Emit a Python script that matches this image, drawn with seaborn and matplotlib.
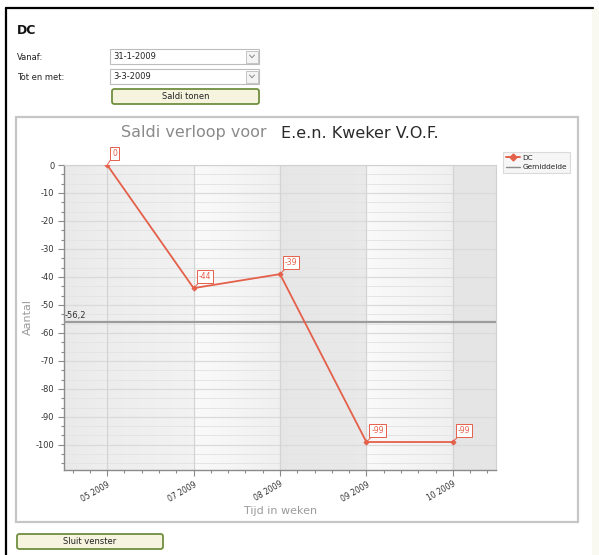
import numpy as np
import pandas as pd
import matplotlib
matplotlib.use("Agg")
import matplotlib.pyplot as plt
import seaborn as sns
from matplotlib.patches import Rectangle, FancyBboxPatch
from matplotlib.lines import Line2D
from matplotlib.ticker import MultipleLocator

# ---------------- data ----------------
weeks = ["05 2009", "07 2009", "08 2009", "09 2009", "10 2009"]
saldo = [0, -44, -39, -99, -99]
gemiddelde = -56.2
gemiddelde_label = "-56,2"
series_name = "DC"
avg_name = "Gemiddelde"
title_a = "Saldi verloop voor"
title_b = "E.e.n. Kweker V.O.F."
y_label = "Aantal"
x_label = "Tijd in weken"
vanaf = "31-1-2009"
tot = "3-3-2009"

sns.set_theme(style="white")
plt.rcParams["font.family"] = ["DejaVu Sans"]
plt.rcParams["axes.unicode_minus"] = False

W, H = 599, 555
fig = plt.figure(figsize=(W / 100, H / 100), dpi=100)
fig.patch.set_facecolor("white")


def fx(x):
    return x / W


def fy(y):
    return 1 - y / H


def frect(x0, y0, x1, y1, z=1, **kw):
    r = Rectangle((fx(x0), fy(y1)), fx(x1) - fx(x0), fy(y0) - fy(y1),
                  transform=fig.transFigure, zorder=z, **kw)
    fig.add_artist(r)
    return r


def fbutton(x0, y0, x1, y1, text):
    b = FancyBboxPatch((fx(x0), fy(y1)), fx(x1) - fx(x0), fy(y0) - fy(y1),
                       boxstyle="round,pad=0,rounding_size=0.004",
                       transform=fig.transFigure, facecolor="#f6f3de",
                       edgecolor="#6f8f3f", linewidth=1.3)
    fig.add_artist(b)
    fig.text(fx((x0 + x1) / 2), fy((y0 + y1) / 2), text, ha="center",
             va="center", fontsize=6, color="#222222")


# window decorations
fig.add_artist(Line2D([fx(6), fx(593)], [fy(8), fy(8)], color="black",
                      lw=1.6, transform=fig.transFigure))
fig.add_artist(Line2D([fx(6), fx(6)], [fy(8), fy(555)], color="black",
                      lw=1.6, transform=fig.transFigure))
frect(592, 8, 599, 555, facecolor="#f9f9f2", edgecolor="none")

# header
fig.text(fx(17), fy(31), "DC", fontsize=9, fontweight="bold",
         color="#111111", va="center", ha="left")
fig.text(fx(17), fy(57), "Vanaf:", fontsize=6, color="#222222",
         va="center", ha="left")
fig.text(fx(17), fy(77), "Tot en met:", fontsize=6, color="#222222",
         va="center", ha="left")
for (yy0, yy1, txt) in [(49, 64, vanaf), (69, 84, tot)]:
    frect(110, yy0, 259, yy1, facecolor="white", edgecolor="#bcbcbc", lw=0.8)
    frect(246, yy0 + 1.5, 258, yy1 - 1.5, facecolor="#f4f4f4",
          edgecolor="#c4c4c4", lw=0.7)
    cy = (yy0 + yy1) / 2
    fig.add_artist(Line2D([fx(249.5), fx(252), fx(254.5)],
                          [fy(cy - 1.5), fy(cy + 1.2), fy(cy - 1.5)],
                          color="#8a8a8a", lw=0.7, transform=fig.transFigure))
    fig.text(fx(113), fy(cy), txt, fontsize=6, color="#222222",
             va="center", ha="left")
fbutton(112, 89, 259, 104, "Saldi tonen")
fbutton(17, 534, 163, 549, "Sluit venster")

# chart panel (behind the axes)
frect(16, 117, 578, 522, z=-2, facecolor="white", edgecolor="#c6c6c6", lw=1.6)

# ---------------- axes ----------------
ax = fig.add_axes([fx(64), fy(470), fx(496) - fx(64), fy(165) - fy(470)])
ax.set_zorder(2)
ax.set_facecolor("#ececec")
ymin, ymax = -109, 0
xmin, xmax = -0.5, len(weeks) - 0.5

# background bands with gentle gradients (styling only)
ncol = 1000
xs = np.linspace(xmin, xmax, ncol)
bands = [(-0.5, 0, 0.915, 0.935), (0, 1, 0.93, 0.95), (1, 2, 0.98, 0.94),
         (2, 3, 0.905, 0.915), (3, 4, 0.98, 0.94), (4, 4.5, 0.90, 0.90)]
g = np.zeros(ncol)
for a, b, c0, c1 in bands:
    m = (xs >= a) & (xs <= b)
    g[m] = c0 + (c1 - c0) * (xs[m] - a) / (b - a)
img = np.repeat(g[None, :, None], 3, axis=2)
ax.imshow(img, extent=[xmin, xmax, ymin, ymax], aspect="auto", zorder=0,
          interpolation="bilinear")

# grid lines
for v in np.arange(0, ymin, -10 / 3):
    major = abs(v - round(v / 10) * 10) < 0.5
    ax.axhline(v, color="#dadada" if major else "#e4e4e4",
               lw=0.9 if major else 0.7, zorder=1)
for i in range(len(weeks)):
    ax.axvline(i, color="#d4d4d4", lw=0.9, zorder=1)

df = pd.DataFrame({"pos": np.arange(len(weeks)), "saldo": saldo})
red = "#e4604a"
sns.lineplot(data=df, x="pos", y="saldo", ax=ax, color=red, lw=1.3,
             marker="D", markersize=2.5, markeredgecolor=red, zorder=4,
             label=series_name, legend=False)
ax.axhline(gemiddelde, color="#9c9c9c", lw=1.6, zorder=3)
ax.annotate(gemiddelde_label, xy=(xmin, gemiddelde), xytext=(1, 2),
            textcoords="offset pixels", fontsize=6, color="#333333",
            ha="left", va="bottom", zorder=5)

for i, v in enumerate(saldo):
    ax.annotate(str(v), xy=(i, v), xytext=(5, 7), textcoords="offset pixels",
                fontsize=5.5, color=red, ha="left", va="bottom", zorder=6,
                annotation_clip=False,
                bbox=dict(boxstyle="square,pad=0.25", fc="white", ec=red,
                          lw=0.7),
                arrowprops=dict(arrowstyle="-", color=red, lw=0.7,
                                shrinkA=0, shrinkB=0))

ax.set_xlim(xmin, xmax)
ax.set_ylim(ymin, ymax)
ax.set_xticks(np.arange(len(weeks)))
ax.set_xticklabels(weeks, rotation=30, ha="right", rotation_mode="anchor",
                   fontsize=5.5, color="#333333")
ax.xaxis.set_minor_locator(MultipleLocator(0.2))
ax.yaxis.set_major_locator(MultipleLocator(10))
ax.yaxis.set_minor_locator(MultipleLocator(10 / 3))
ax.tick_params(axis="y", labelsize=6, colors="#333333")
ax.tick_params(which="both", direction="out", color="#8a8a8a", width=0.8,
               bottom=True, left=True)
ax.tick_params(which="major", length=4, pad=3)
ax.tick_params(which="minor", length=2)
ax.set_xlabel("")
ax.set_ylabel("")
for s in ["left", "bottom"]:
    ax.spines[s].set_color("#8a8a8a")
    ax.spines[s].set_linewidth(1.0)
for s in ["top", "right"]:
    ax.spines[s].set_color("#d0d0d0")
    ax.spines[s].set_linewidth(0.8)

# titles & axis labels
fig.text(fx(272), fy(133), title_a + " ", fontsize=11.5, color="#8a8a8a",
         ha="right", va="center")
fig.text(fx(281), fy(134), title_b, fontsize=11.5, color="#2a2a2a",
         ha="left", va="center")
fig.text(fx(28), fy(317), y_label, fontsize=8, color="#9a9a9a",
         rotation=90, ha="center", va="center")
fig.text(fx(281), fy(511), x_label, fontsize=8, color="#9a9a9a",
         ha="center", va="center")

# legend
handles = [Line2D([], [], color=red, lw=1.4, marker="D", markersize=3.5),
           Line2D([], [], color="#8a8a8a", lw=1.0)]
leg = fig.legend(handles, [series_name, avg_name], loc="upper left",
                 bbox_to_anchor=(fx(503), fy(152)), fontsize=5.3,
                 frameon=True, fancybox=False, handlelength=2.0,
                 handletextpad=0.3, borderpad=0.35, labelspacing=0.45,
                 borderaxespad=0)
leg.get_frame().set_facecolor("#f4f4f4")
leg.get_frame().set_edgecolor("#d2d2d2")
leg.get_frame().set_linewidth(0.8)

fig.savefig("out.png", dpi=100)
